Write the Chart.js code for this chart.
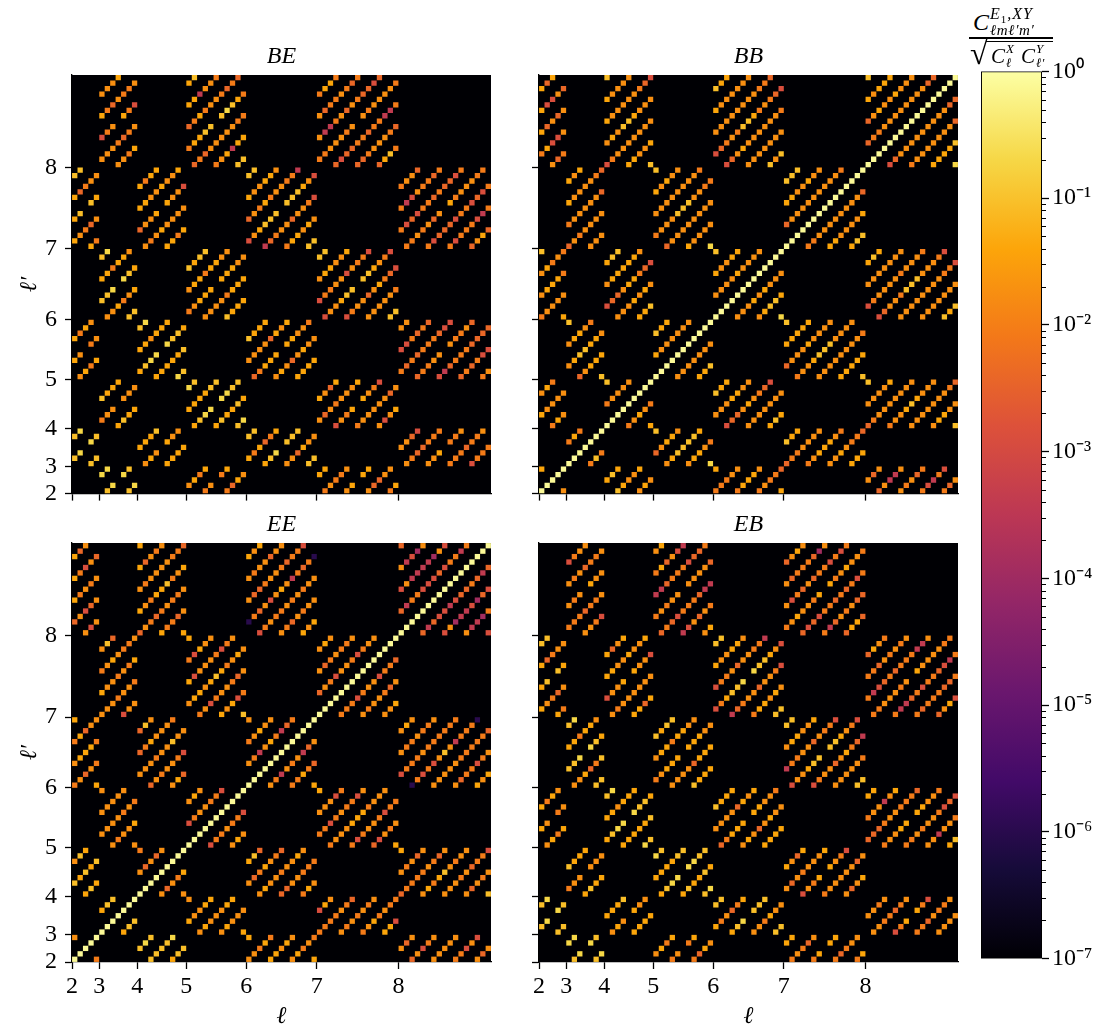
<!DOCTYPE html>
<html>
<head>
<meta charset="utf-8">
<title>E1 coupling matrices</title>
<script src="https://cdn.jsdelivr.net/npm/chart.js@4/dist/chart.umd.min.js"></script>
<style>
html,body{margin:0;padding:0;background:#fff;width:1116px;height:1030px;overflow:hidden;}
canvas{position:absolute;}
#cbarLabel span{position:absolute;font-family:"Liberation Serif",serif;font-style:italic;color:#000;line-height:1;white-space:nowrap;}
#cbarLabel div{position:absolute;background:#000;}
</style>
</head>
<body>
<canvas id="panelBE" width="485" height="471" style="left:12px;top:45px"></canvas>
<canvas id="panelBB" width="485" height="471" style="left:479px;top:45px"></canvas>
<canvas id="panelEE" width="485" height="521" style="left:12px;top:513px"></canvas>
<canvas id="panelEB" width="485" height="521" style="left:479px;top:513px"></canvas>
<canvas id="cbar" width="135" height="922" style="left:981px;top:54px"></canvas>
<div id="cbarLabel">
  <span style="left:973px;top:10px;font-size:24px">C</span>
  <span style="left:990px;top:6px;font-size:16px;letter-spacing:1px">E<sub style="font-size:11px;font-style:normal">1</sub>,XY</span>
  <span style="left:990px;top:23px;font-size:15px;letter-spacing:0.6px">ℓmℓ′m′</span>
  <div style="left:969px;top:37px;width:84px;height:2px"></div>
  <span style="left:970px;top:37px;font-size:32px;font-style:normal">√</span>
  <div style="left:986px;top:41px;width:67px;height:1px"></div>
  <span style="left:991px;top:46px;font-size:21px">C</span>
  <span style="left:1006px;top:42px;font-size:13px">X</span>
  <span style="left:1006px;top:56px;font-size:13px">ℓ</span>
  <span style="left:1021px;top:46px;font-size:21px">C</span>
  <span style="left:1036px;top:42px;font-size:13px">Y</span>
  <span style="left:1036px;top:56px;font-size:13px">ℓ′</span>
</div>
<script>
const FONT = '"Liberation Serif", serif';

// first matrix cell of each multipole, the axis ticks sit on them
const ELLS = [2,3,4,5,6,7,8];
const TICK_POS = [0,5,12,21,32,45,60];
const TICK_LABELS = ['2','3','4','5','6','7','8'];
const GRID_SIZE = 77;

const CBAR_TICKS = [1,1e-1,1e-2,1e-3,1e-4,1e-5,1e-6,1e-7];
const CBAR_LABELS = ['10⁰','10⁻¹','10⁻²','10⁻³','10⁻⁴','10⁻⁵','10⁻⁶','10⁻⁷'];
const CBAR_MINOR = [2,3,4,5,6,7,8,9];
const CBAR_MIN = 1e-7;
const CBAR_MAX = 1;

// colour classes, char -> value on the colour bar
const LEVEL_CHARS = ['1','2','3','4','5','6','7','8','9','a','b','c'];
const LEVEL_VALUES = [0.8,0.2,0.09,0.04,0.018,0.009,0.004,0.0013,0.0004,0.00012,0.00001,0.000001];

// [l, l', diagonals of the block from upper left to lower right], '.' = empty cell
const BE_blocks = [
  [3,8,"5554 4675665 865.468 5556765 5564"],
  [5,8,"43 449556 7646556767 64433.32346 7675555566 654944 33"],
  [7,8,"6446 57665676 599657567787 6655565.5655556 787766766996 77655567 7436"],
  [2,7,"33 47655 43.34 45675 46"],
  [4,7,"4644 44554554 7554.4558 56545555 4464"],
  [6,7,"33 455445 7564655669 854333.333458 9765575568 644545 33"],
  [8,7,"6557 69856676 687866767786 6656575.4655566 687778668786 68666896 7547"],
  [3,6,"32 446445 332.234 554654 33"],
  [5,6,"3433 54464455 65444.44455 55556444 3444"],
  [7,6,"33 544554 8665585668 855433.334568 8655754678 555556 33"],
  [2,5,"4645 45.65 5464"],
  [4,5,"32 445444 4322.2334 444443 23"],
  [6,5,"3444 55557454 76444.44556 54575455 4444"],
  [8,5,"55 886767 6767666788 76655.56657 8976667777 767688 65"],
  [3,4,"3444 655.555 4344"],
  [5,4,"23 444433 4322.2233 434434 32"],
  [7,4,"4574 57565554 8564.4568 65555575 5854"],
  [2,3,"32 32.23 33"],
  [4,3,"4443 545.455 4444"],
  [6,3,"33 464764 432.333 557455 33"],
  [8,3,"5578 5677666 554.665 6667665 8666"],
  [3,2,"22 32.23 32"],
  [5,2,"5464 65.64 6745"],
  [7,2,"44 65665 54.44 57755 64"]
];

const BB_blocks = [
  [2,8,"474 48857 47575 64885 576"],
  [4,8,"3 45555 455555678 545334555 865555555 44554 3"],
  [6,8,"344 4555555 55555555667 8765633465678 87545555556 5555555 353"],
  [8,8,"3 45444 754554555 7665555555577 11111111111111111 8755555555577 655555557 44443 2"],
  [3,7,"454 4555567 6555557 7565555 555"],
  [5,7,"3 45455 555555556 65553335566 755555555 45555 2"],
  [7,7,"333 4455455 75555555556 111111111111111 66555555557 4455554 433"],
  [2,6,"3 54656 54446 65555 4"],
  [4,6,"433 5444445 877544678 5554545 443"],
  [6,6,"3 45544 555545555 1111111111111 555454555 54334 2"],
  [8,6,"434 5555555 86555565556 8755633355568 55555555668 5555555 343"],
  [3,5,"3 54456 5433445 75444 3"],
  [5,5,"344 4555555 11111111111 5555555 443"],
  [7,5,"3 44444 755545555 65543335555 555555556 44444 3"],
  [2,4,"546 45555 645"],
  [4,4,"3 65555 111111111 65456 4"],
  [6,4,"344 5554455 877545678 5555555 434"],
  [8,4,"3 55554 765555555 655434555 555555567 54455 3"],
  [3,3,"646 1111111 636"],
  [5,3,"3 75445 5433334 54456 2"],
  [7,3,"344 7665555 6544456 5545667 444"],
  [2,2,"4 11111 5"],
  [4,2,"434 34554 545"],
  [6,2,"4 66655 64445 65667 4"],
  [8,2,"575 75995 56576 68968 675"]
];

const EE_blocks = [
  [2,8,"475 46857 46565 75875 585"],
  [4,8,"4 47565 565555667 456443654 756765665 46675 4"],
  [6,8,"454 5655755 57765567668 c67585459676c 86566565655 5675655 454"],
  [8,8,"7 598a5 859999a58 7966888786696 11111111111111111 7978898776797 85a998a78 599a6 8"],
  [3,7,"537 6545665 4556564 5556556 855"],
  [5,7,"4 68455 485556865 54454346545 658655675 45486 3"],
  [7,7,"545 5765665 75685568655 111111111111111 66686558667 5655675 554"],
  [2,6,"4 64755 54446 65756 4"],
  [4,6,"735 7645556 555655355 7565568 547"],
  [6,6,"5 65455 569546976 1111111111111 569565975 66467 4"],
  [8,6,"545 5665665 86665666666 c68685359666c 55555666667 5766865 454"],
  [3,5,"5 55555 5555656 56554 5"],
  [5,5,"545 8655668 11111111111 8665668 545"],
  [7,5,"4 55586 668656685 65554446555 686556866 78565 4"],
  [2,4,"534 34343 434"],
  [4,4,"6 57575 111111111 57564 5"],
  [6,4,"437 5764567 545565545 7755666 645"],
  [8,4,"4 56575 766665675 546435655 555657668 57565 3"],
  [3,3,"433 1111111 433"],
  [5,3,"5 45544 5455544 54555 4"],
  [7,3,"845 6666567 5656565 6546566 448"],
  [2,2,"5 11111 6"],
  [4,2,"323 33332 433"],
  [6,2,"4 55646 44545 54656 4"],
  [8,2,"575 75865 55555 66858 575"]
];

const EB_blocks = [
  [3,8,"8655 5657665 565.455 6667665 5568"],
  [5,8,"54 647589 9976668776 65655.55557 7678666799 985756 54"],
  [7,8,"7545 576667a5 586757668686 6545564.4654556 787866767686 69756577 7447"],
  [2,7,"33 47655 43.34 45675 46"],
  [4,7,"4754 44554554 8554.4558 56555555 4474"],
  [6,7,"33 455445 8665755669 864332.233458 9765575568 644545 33"],
  [8,7,"7456 66756565 698767666995 6655565.4555566 699768667896 67666776 7548"],
  [3,6,"32 446445 332.234 554763 33"],
  [5,6,"3433 54464455 65444.44455 55557444 3444"],
  [7,6,"33 544554 9665575668 855433.334568 8655754679 555556 33"],
  [2,5,"4645 45.65 5464"],
  [4,5,"32 445444 4322.2334 444443 23"],
  [6,5,"3444 55557454 76444.44556 54575455 4444"],
  [8,5,"44 655954 7776556667 65544.44556 6656556878 559556 43"],
  [3,4,"3444 655.555 4344"],
  [5,4,"23 444433 4322.2233 434434 32"],
  [7,4,"4574 57565554 8564.4568 65555575 5754"],
  [2,3,"32 32.23 33"],
  [4,3,"4443 545.455 4444"],
  [6,3,"33 465764 432.333 556455 33"],
  [8,3,"5565 5566765 864.468 6675665 5555"],
  [3,2,"22 32.23 32"],
  [5,2,"5464 65.64 6745"],
  [7,2,"44 65675 64.44 67655 64"]
];

// inferno colour map, evenly spaced stops
const INFERNO = [[0,0,4],[22,11,57],[66,10,104],[106,23,110],[147,38,103],[188,55,84],[221,81,58],[243,120,25],[252,165,10],[246,215,70],[252,255,164]];

Chart.defaults.font.family = FONT;
Chart.defaults.font.size = 24;
Chart.defaults.font.weight = 'normal';

function infernoAt(f){
  const t = Math.min(Math.max(f,0),1) * (INFERNO.length-1);
  const i = Math.min(Math.floor(t), INFERNO.length-2);
  const k = t - i;
  const c = INFERNO[i].map((v,j)=> Math.round(v + (INFERNO[i+1][j]-v)*k));
  return `rgb(${c[0]},${c[1]},${c[2]})`;
}

function valueColor(v){
  const lo = Math.log10(CBAR_MIN), hi = Math.log10(CBAR_MAX);
  return infernoAt((Math.log10(v)-lo)/(hi-lo));
}

// walk the diagonals m'-m = d of each (l,l') block and turn them into matrix cells
function buildCells(blocks){
  const cells = [];
  blocks.forEach(([l,lp,text])=>{
    const off = TICK_POS[ELLS.indexOf(l)];
    const offP = TICK_POS[ELLS.indexOf(lp)];
    const dMax = Math.floor((l+lp)/4)*4;
    text.split(' ').forEach((stripe,i)=>{
      const d = dMax - 4*i;
      const mStart = Math.max(-l, -lp-d);
      stripe.split('').forEach((ch,k)=>{
        if(ch === '.') return;
        const m = mStart + k;
        cells.push({ x: off+l+m+0.5, y: offP+lp+m+d+0.5, v: LEVEL_VALUES[LEVEL_CHARS.indexOf(ch)] });
      });
    });
  });
  return cells;
}

const plotBackground = {
  id:'plotBackground',
  beforeDatasetsDraw(chart){
    const a = chart.chartArea;
    chart.ctx.save();
    chart.ctx.fillStyle = '#000004';
    chart.ctx.fillRect(a.left, a.top, a.right-a.left, a.bottom-a.top);
    chart.ctx.restore();
  }
};

function axisOptions(showLabels, titleText, size, isX){
  return {
    type:'linear', min:0, max:GRID_SIZE,
    afterBuildTicks: (axis)=>{ axis.ticks = TICK_POS.map(v=>({value:v})); },
    afterFit: (axis)=>{ if(isX) axis.height = size; else axis.width = size; },
    grid:{ drawOnChartArea:false, drawTicks:true, tickLength:7, tickWidth:1.3, tickColor:'#000' },
    border:{ display:true, color:'#000', width:1.3 },
    ticks:{
      autoSkip:false, maxRotation:0, color:'#000', padding: isX ? 3 : 8,
      font:{ family:FONT, size:24, weight:'normal' },
      callback: (v,i)=> showLabels ? TICK_LABELS[i] : ''
    },
    title:{
      display: !!titleText, text: titleText || '', color:'#000',
      font:{ family:FONT, size:24, style:'italic', weight:'normal', lineHeight:1.2 },
      padding: isX ? {top:0,bottom:3} : {top:3,bottom:0}
    }
  };
}

function makePanel(id, blocks, name, showX, showY){
  new Chart(document.getElementById(id), {
    type:'scatter',
    data:{ datasets:[{
      data: buildCells(blocks),
      pointStyle:'rect',
      pointRadius:3.75,
      pointHoverRadius:3.75,
      pointBorderWidth:0,
      backgroundColor: (ctx)=> ctx.raw ? valueColor(ctx.raw.v) : '#000'
    }]},
    options:{
      responsive:false,
      animation:false,
      events:[],
      layout:{ autoPadding:false, padding:{ right:6 } },
      plugins:{
        legend:{ display:false },
        tooltip:{ enabled:false },
        title:{
          display:true, text:name, color:'#000', fullSize:false,
          font:{ family:FONT, size:24, style:'italic', weight:'normal', lineHeight:1 },
          padding:{ top:0, bottom:6 }
        }
      },
      scales:{
        x: axisOptions(showX, showX ? 'ℓ' : '', showX ? 72 : 14, true),
        y: axisOptions(showY, showY ? 'ℓ′' : '', 60, false)
      }
    },
    plugins:[plotBackground]
  });
}

const cbarMinorTicks = {
  id:'cbarMinorTicks',
  afterDraw(chart){
    const s = chart.scales.y, ctx = chart.ctx, right = chart.chartArea.right;
    ctx.save();
    ctx.strokeStyle = '#000';
    ctx.lineWidth = 1;
    CBAR_TICKS.slice(0,-1).forEach((_,i)=>{
      const decade = CBAR_TICKS[i+1];
      CBAR_MINOR.forEach(n=>{
        const y = Math.round(s.getPixelForValue(n*decade))+0.5;
        ctx.beginPath();
        ctx.moveTo(right,y);
        ctx.lineTo(right+4,y);
        ctx.stroke();
      });
    });
    ctx.restore();
  }
};

function makeColorbar(){
  new Chart(document.getElementById('cbar'), {
    type:'bar',
    data:{ labels:[''], datasets:[{
      data:[[CBAR_MIN,CBAR_MAX]],
      barPercentage:1, categoryPercentage:1,
      borderColor:'#000', borderWidth:1.3, borderSkipped:false,
      backgroundColor:(ctx)=>{
        const a = ctx.chart.chartArea;
        if(!a) return '#000';
        const g = ctx.chart.ctx.createLinearGradient(0,a.bottom,0,a.top);
        INFERNO.forEach((c,i)=> g.addColorStop(i/(INFERNO.length-1), `rgb(${c[0]},${c[1]},${c[2]})`));
        return g;
      }
    }]},
    options:{
      responsive:false,
      animation:false,
      events:[],
      layout:{ autoPadding:false, padding:{ top:10, bottom:10 } },
      plugins:{ legend:{display:false}, tooltip:{enabled:false} },
      scales:{
        x:{ display:false },
        y:{
          type:'logarithmic', position:'right', min:CBAR_MIN, max:CBAR_MAX,
          afterBuildTicks:(axis)=>{ axis.ticks = CBAR_TICKS.map(v=>({value:v})); },
          afterFit:(axis)=>{ axis.width = 74; },
          grid:{ drawOnChartArea:false, drawTicks:true, tickLength:7, tickWidth:1.3, tickColor:'#000' },
          border:{ display:false },
          ticks:{
            autoSkip:false, color:'#000', padding:3,
            font:{ family:FONT, size:24, weight:'normal' },
            callback:(v,i)=> CBAR_LABELS[i]
          }
        }
      }
    },
    plugins:[cbarMinorTicks]
  });
}

makePanel('panelBE', BE_blocks, 'BE', false, true);
makePanel('panelBB', BB_blocks, 'BB', false, false);
makePanel('panelEE', EE_blocks, 'EE', true, true);
makePanel('panelEB', EB_blocks, 'EB', true, false);
makeColorbar();
</script>
</body>
</html>
